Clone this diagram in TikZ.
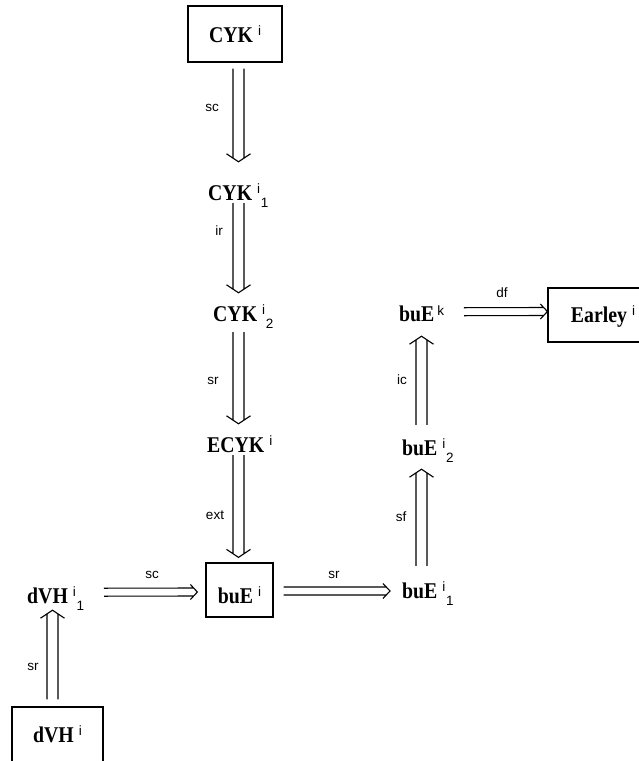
\documentclass[tikz,border=0pt]{standalone}
\usepackage{fontspec}
\setmainfont{Liberation Serif}
\setsansfont{Liberation Sans}
\newfontfamily\mbfam[FakeStretch=0.88]{Liberation Serif}
\usetikzlibrary{calc}
\newcommand{\mtxt}[1]{{\mbfam\bfseries\fontsize{22.5}{24}\selectfont #1}}
\newcommand{\stxt}[1]{{\sffamily\fontsize{13.5}{13.5}\selectfont #1}}
\newcommand{\nmsup}[2]{\mtxt{#1}\hspace{5pt}\raisebox{7pt}{\stxt{#2}}}
\newcommand{\nmsub}[3]{\mtxt{#1}\hspace{5pt}\raisebox{7pt}{\stxt{#2}}\hspace{0.6pt}\raisebox{-7pt}{\stxt{#3}}}
% double arrow: #1 half gap, #2 chevron half width, #3 chevron length, #4 start, #5 tip
\newcommand{\darrow}[5]{%
 \draw[conn] let \p1=#4, \p2=#5,
   \n2={veclen(\x2-\x1,\y2-\y1)}, \n3={(\x2-\x1)/\n2}, \n4={(\y2-\y1)/\n2},
   \n5={#3*#1/#2} in
  ({\x1-#1*\n4},{\y1+#1*\n3}) -- ({\x2-\n5*\n3-#1*\n4},{\y2-\n5*\n4+#1*\n3})
  ({\x1+#1*\n4},{\y1-#1*\n3}) -- ({\x2-\n5*\n3+#1*\n4},{\y2-\n5*\n4-#1*\n3})
  ({\x2-#3*\n3-#2*\n4},{\y2-#3*\n4+#2*\n3}) -- (\p2) -- ({\x2-#3*\n3+#2*\n4},{\y2-#3*\n4-#2*\n3});
}
\newcommand{\vdarr}[2]{\darrow{5.5}{12}{8}{#1}{#2}}
\newcommand{\hdarr}[2]{\darrow{4}{7.5}{7}{#1}{#2}}
\tikzset{
  conn/.style={line width=1.1pt},
  box/.style={draw, line width=1.2pt, inner sep=0pt, text depth=0pt},
  txt/.style={inner sep=0pt, text height=16pt, text depth=0pt, anchor=base west},
  lab/.style={inner sep=0pt, font=\sffamily\fontsize{13.5}{13.5}\selectfont}
}
\begin{document}
\begin{tikzpicture}[x=1pt,y=-1pt]
\useasboundingbox (0,0) rectangle (639,761);
\clip (0,0) rectangle (639,761);
% boxes
\node[box, minimum width=94pt, minimum height=56pt, text height=16pt] (cyk) at (235,34) {\nmsup{CYK}{i}};
\node[box, minimum width=67pt, minimum height=54pt, text height=26pt] (bue) at (239.5,590) {\nmsup{buE}{i}};
\node[box, minimum width=110pt, minimum height=54pt, text height=14pt] (earley) at (603,315) {\nmsup{Earley}{i}};
\node[box, minimum width=91pt, minimum height=56pt, text height=14pt] (dvh) at (57.5,735) {\nmsup{dVH}{i}};
% plain text nodes
\node[txt] (cyk1) at (208,200) {\nmsub{CYK}{i}{1}};
\node[txt] (cyk2) at (213,321) {\nmsub{CYK}{i}{2}};
\node[txt] (ecyk) at (207,452) {\nmsup{ECYK}{i}};
\node[txt] (bue1) at (402,598) {\nmsub{buE}{i}{1}};
\node[txt] (bue2) at (402,455) {\nmsub{buE}{i}{2}};
\node[txt] (buek) at (399,321) {\mtxt{buE}\hspace{3pt}\raisebox{6pt}{\stxt{k}}};
\node[txt] (dvh1) at (27,603) {\nmsub{dVH}{i}{1}};
% connectors
\vdarr{([shift={(3.5,6)}]cyk.south)}{([shift={(30.5,-22)}]cyk1.north west)}
\vdarr{([shift={(30.5,3)}]cyk1.south west)}{([shift={(25.5,-12)}]cyk2.north west)}
\vdarr{([shift={(25.5,11)}]cyk2.south west)}{([shift={(31.5,-12)}]ecyk.north west)}
\vdarr{([shift={(31.5,3)}]ecyk.south west)}{([shift={(-1,-5)}]bue.north)}
\hdarr{([shift={(10,1)}]bue.east)}{([shift={(-12,1)}]bue1.west)}
\vdarr{([shift={(19.5,-16)}]bue1.north west)}{([shift={(19.5,14)}]bue2.south west)}
\vdarr{([shift={(19.5,-14)}]bue2.north west)}{([shift={(22.5,15)}]buek.south west)}
\hdarr{([shift={(65,-9.5)}]buek.south west)}{([shift={(0,-3.5)}]earley.west)}
\hdarr{([shift={(77,-11)}]dvh1.south west)}{([shift={(-8,2)}]bue.west)}
\vdarr{([shift={(-5,-7)}]dvh.north)}{([shift={(25.5,7)}]dvh1.south west)}
% connector labels
\node[lab] (lsc1) at (212,108) {sc};
\node[lab] (lir) at (219,231) {ir};
\node[lab] (lsr1) at (213,381) {sr};
\node[lab] (lext) at (215,515) {ext};
\node[lab] (lsc2) at (152,575) {sc};
\node[lab] (lsr2) at (334,575) {sr};
\node[lab] (lsf) at (401,517) {sf};
\node[lab] (lic) at (402,380) {ic};
\node[lab] (ldf) at (502,293) {df};
\node[lab] (lsr3) at (33,667) {sr};
\end{tikzpicture}
\end{document}
